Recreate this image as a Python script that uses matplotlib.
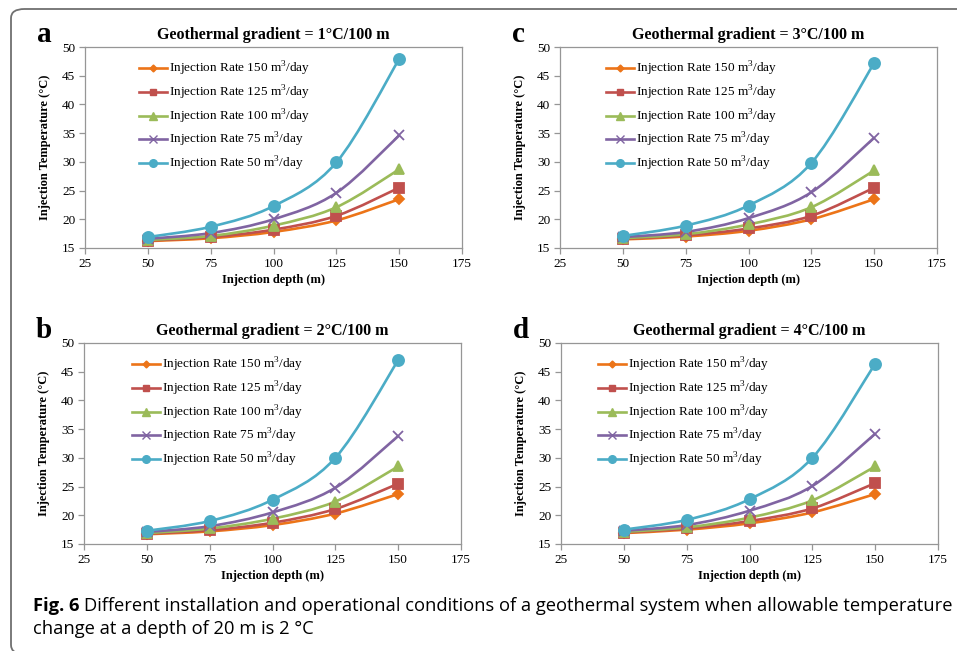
import matplotlib
matplotlib.use('Agg')
import matplotlib.pyplot as plt
from matplotlib.path import Path
from matplotlib.patches import PathPatch, FancyBboxPatch
from matplotlib.lines import Line2D

plt.rcParams['font.family'] = ['Liberation Serif', 'DejaVu Serif']
plt.rcParams['mathtext.fontset'] = 'custom'
plt.rcParams['mathtext.rm'] = 'Liberation Serif'

# ── Data ──────────────────────────────────────────────────────────────────────
depth = [50, 75, 100, 125, 150]
rates = ['150', '125', '100', '75', '50']

# gradient 1 °C/100 m (panel a)
temp_g1 = [
    [16.2, 16.7, 17.8, 19.8, 23.5],
    [16.3, 16.9, 18.2, 20.6, 25.5],
    [16.4, 17.1, 18.9, 22.1, 28.7],
    [16.6, 17.6, 20.0, 24.6, 34.6],
    [16.9, 18.7, 22.3, 29.9, 47.9],
]
# gradient 2 °C/100 m (panel b)
temp_g2 = [
    [16.7, 17.2, 18.3, 20.3, 23.7],
    [16.8, 17.4, 18.7, 21.1, 25.5],
    [16.9, 17.7, 19.4, 22.4, 28.5],
    [17.1, 18.1, 20.5, 24.8, 33.8],
    [17.3, 19.0, 22.7, 30.0, 47.0],
]
# gradient 3 °C/100 m (panel c)
temp_g3 = [
    [16.5, 17.0, 18.0, 20.0, 23.5],
    [16.6, 17.2, 18.4, 20.6, 25.5],
    [16.7, 17.4, 19.1, 22.1, 28.5],
    [16.9, 17.8, 20.2, 24.7, 34.2],
    [17.1, 18.9, 22.4, 29.8, 47.2],
]
# gradient 4 °C/100 m (panel d)
temp_g4 = [
    [16.9, 17.5, 18.6, 20.5, 23.7],
    [17.0, 17.7, 19.0, 21.2, 25.6],
    [17.1, 17.9, 19.6, 22.6, 28.5],
    [17.3, 18.3, 20.8, 25.1, 34.2],
    [17.5, 19.2, 22.8, 30.0, 46.4],
]

colors = ['#EC7418', '#C0504D', '#9BBB59', '#8064A2', '#4BACC6']
markers = ['D', 's', '^', 'x', 'o']
msizes = [5.5, 7, 7.5, 7.5, 8]
leg_msizes = [3.5, 5, 5.5, 5.5, 5.5]

W, H = 957, 651


def smooth_path(xs, ys):
    # Excel-style smoothed line: cubic Bezier through the points
    pts = list(zip(xs, ys))
    n = len(pts)
    verts = [pts[0]]
    codes = [Path.MOVETO]
    for i in range(n - 1):
        p0 = pts[i - 1] if i > 0 else pts[i]
        p1 = pts[i]
        p2 = pts[i + 1]
        p3 = pts[i + 2] if i + 2 < n else pts[i + 1]
        c1 = (p1[0] + (p2[0] - p0[0]) / 6, p1[1] + (p2[1] - p0[1]) / 6)
        c2 = (p2[0] - (p3[0] - p1[0]) / 6, p2[1] - (p3[1] - p1[1]) / 6)
        verts += [c1, c2, p2]
        codes += [Path.CURVE4] * 3
    return Path(verts, codes)


def panel(box, temps, grad, letter, leg_x):
    l, t, r, b = box
    ax = fig.add_axes([l / W, 1 - b / H, (r - l) / W, (b - t) / H])
    handles = []
    for k in range(5):
        ax.add_patch(PathPatch(smooth_path(depth, temps[k]), fill=False,
                               edgecolor=colors[k], lw=1.9, zorder=2))
        ax.plot(depth, temps[k], linestyle='none', marker=markers[k],
                ms=msizes[k], color=colors[k], mew=1.3, zorder=3)
        handles.append(Line2D([], [], color=colors[k], lw=1.9, marker=markers[k],
                              ms=leg_msizes[k], mew=1.0))
    labels = ['Injection Rate %s m$^{3}$/day' % r_ for r_ in rates]
    ax.legend(handles, labels, loc='upper left', frameon=False, fontsize=9.5,
              bbox_to_anchor=(leg_x / (r - l), 0.935), borderaxespad=0,
              handlelength=2.1, handletextpad=0.15, labelspacing=0.4,
              borderpad=0)
    ax.set_xlim(25, 175)
    ax.set_ylim(15, 50)
    ax.set_xticks(range(25, 176, 25))
    ax.set_yticks(range(15, 51, 5))
    for s in ax.spines.values():
        s.set_color('#969696')
        s.set_linewidth(0.9)
    ax.tick_params(direction='out', length=4, width=0.9, color='#969696',
                   labelsize=9.5, pad=3)
    ax.set_xlabel('Injection depth (m)', fontsize=9, fontweight='bold', labelpad=3)
    ax.set_ylabel('Injection Temperature (\u00b0C)', fontsize=9, fontweight='bold',
                  labelpad=8)
    ax.set_title('Geothermal gradient = %d\u00b0C/100 m' % grad, fontsize=11.5,
                 fontweight='bold', pad=6)
    fig.text((l - 48) / W, 1 - (t - 13) / H, letter, fontsize=21, fontweight='bold',
             ha='left', va='center')
    return ax


fig = plt.figure(figsize=(W / 100, H / 100), dpi=100)

panel((85, 47, 462, 248), temp_g1, 1, 'a', 54)
panel((560, 47, 937, 248), temp_g3, 3, 'c', 46)
panel((84, 343, 461, 544), temp_g2, 2, 'b', 48)
panel((561, 343, 938, 544), temp_g4, 4, 'd', 37)

# figure frame (only left and top edges fall inside the canvas)
fig.patches.append(FancyBboxPatch((11 / W, 1 - 654 / H), 1.2, (654 - 9) / H,
                                  boxstyle='round,pad=0,rounding_size=0.014',
                                  transform=fig.transFigure, fill=False,
                                  edgecolor='#707070', lw=1.3))

# caption
cap_font = ['Open Sans', 'DejaVu Sans']
fig.text(33 / W, 1 - 606 / H, 'Fig. 6', family=cap_font, fontsize=13.2,
         fontweight='bold', va='center', ha='left')
fig.text(84 / W, 1 - 606 / H,
         'Different installation and operational conditions of a geothermal system '
         'when allowable temperature', family=cap_font, fontsize=13.2,
         va='center', ha='left')
fig.text(33 / W, 1 - 629 / H, 'change at a depth of 20 m is 2 \u00b0C',
         family=cap_font, fontsize=13.2, va='center', ha='left')

fig.savefig('out.png', dpi=100)
